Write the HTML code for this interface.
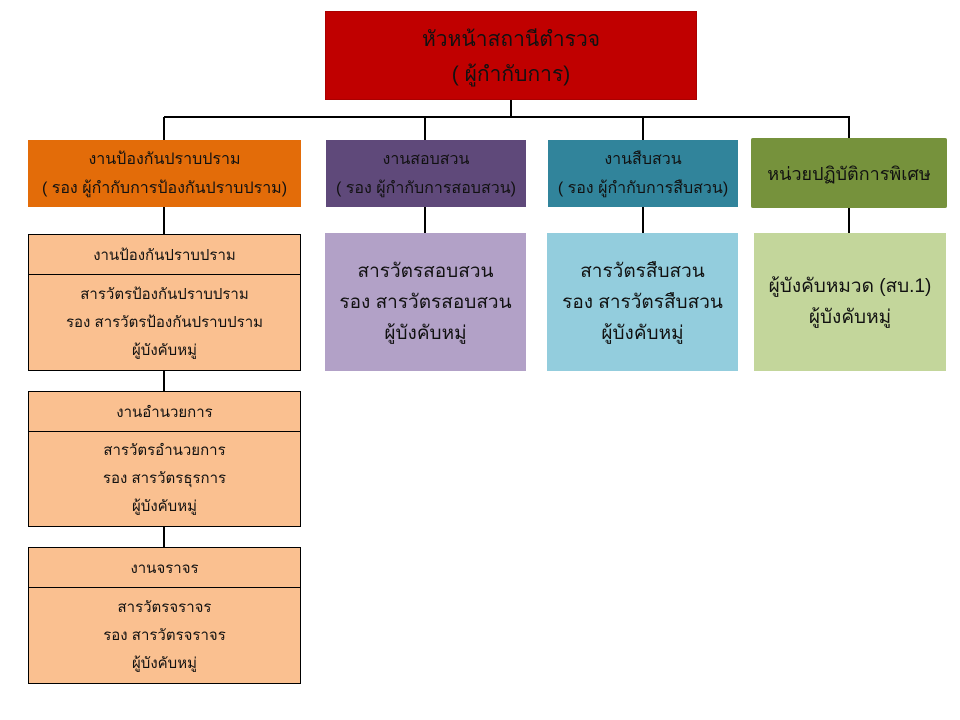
<!DOCTYPE html>
<html><head><meta charset="utf-8"><style>
body{margin:0;width:960px;height:720px;background:#fff;position:relative;font-family:"Liberation Sans","DejaVu Sans",sans-serif;color:#111;overflow:hidden}
.b{position:absolute;box-sizing:border-box;display:flex;flex-direction:column;justify-content:center;align-items:center;text-align:center}
.l{position:absolute;background:#000}
.s{font-size:16px;line-height:29px}
.m{font-size:19px;line-height:31px}
.o{background:#fac090;border:1px solid #000}
.o div.h{height:39px;border-bottom:1px solid #000;width:100%;display:flex;align-items:center;justify-content:center;font-size:15px}
.o div.c{flex:1;width:100%;display:flex;flex-direction:column;justify-content:center;font-size:15px;line-height:28px}
</style></head><body>
<div class="l" style="left:164px;top:116px;width:686px;height:2px"></div>
<div class="l" style="left:510px;top:100px;width:2px;height:17px"></div>
<div class="l" style="left:163px;top:117px;width:2px;height:24px"></div>
<div class="l" style="left:424px;top:117px;width:2px;height:24px"></div>
<div class="l" style="left:642px;top:117px;width:2px;height:24px"></div>
<div class="l" style="left:848px;top:117px;width:2px;height:22px"></div>
<div class="l" style="left:163px;top:207px;width:2px;height:476px"></div>
<div class="l" style="left:424px;top:207px;width:2px;height:27px"></div>
<div class="l" style="left:642px;top:207px;width:2px;height:27px"></div>
<div class="l" style="left:848px;top:207px;width:2px;height:27px"></div>

<div class="b" style="left:325px;top:11px;width:372px;height:89px;background:#c00000;border:1px solid #a00;font-size:21px;line-height:35px;padding-top:2px">หัวหน้าสถานีตำรวจ<br>( ผู้กำกับการ)</div>

<div class="b s" style="left:28px;top:140px;width:273px;height:67px;background:#e36c09">งานป้องกันปราบปราม<br>( รอง ผู้กำกับการป้องกันปราบปราม)</div>
<div class="b s" style="left:326px;top:140px;width:200px;height:67px;background:#5f497a">งานสอบสวน<br>( รอง ผู้กำกับการสอบสวน)</div>
<div class="b s" style="left:548px;top:140px;width:190px;height:67px;background:#31849b">งานสืบสวน<br>( รอง ผู้กำกับการสืบสวน)</div>
<div class="b" style="left:751px;top:138px;width:196px;height:70px;background:#76923c;font-size:18px;border-radius:2px">หน่วยปฏิบัติการพิเศษ</div>

<div class="b m" style="left:325px;top:233px;width:201px;height:138px;background:#b2a1c7">สารวัตรสอบสวน<br>รอง สารวัตรสอบสวน<br>ผู้บังคับหมู่</div>
<div class="b m" style="left:547px;top:233px;width:191px;height:138px;background:#93cddd">สารวัตรสืบสวน<br>รอง สารวัตรสืบสวน<br>ผู้บังคับหมู่</div>
<div class="b m" style="left:754px;top:233px;width:192px;height:138px;background:#c3d69b">ผู้บังคับหมวด (สบ.1)<br>ผู้บังคับหมู่</div>

<div class="b o" style="left:28px;top:234px;width:273px;height:137px"><div class="h">งานป้องกันปราบปราม</div><div class="c">สารวัตรป้องกันปราบปราม<br>รอง สารวัตรป้องกันปราบปราม<br>ผู้บังคับหมู่</div></div>
<div class="b o" style="left:28px;top:391px;width:273px;height:136px"><div class="h">งานอำนวยการ</div><div class="c">สารวัตรอำนวยการ<br>รอง สารวัตรธุรการ<br>ผู้บังคับหมู่</div></div>
<div class="b o" style="left:28px;top:547px;width:273px;height:137px"><div class="h">งานจราจร</div><div class="c">สารวัตรจราจร<br>รอง สารวัตรจราจร<br>ผู้บังคับหมู่</div></div>
</body></html>
